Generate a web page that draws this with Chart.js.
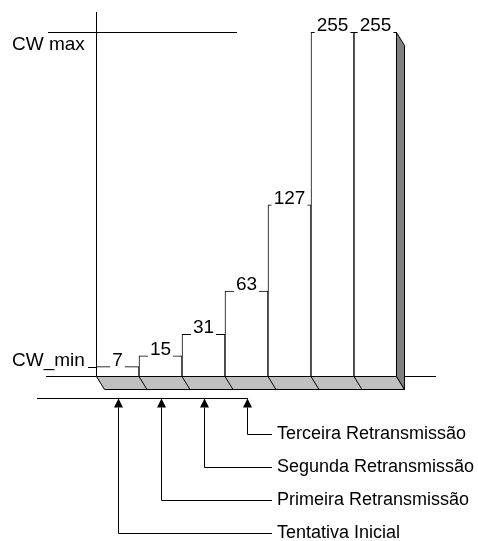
<!DOCTYPE html>
<html lang="pt">
<head>
<meta charset="UTF-8">
<title>Janela de contenção</title>
<script src="https://cdn.jsdelivr.net/npm/chart.js"></script>
<style>
  body { margin: 0; background: #fff; }
  #wrap { width: 478px; height: 541px; }
</style>
</head>
<body>
<div id="wrap"><canvas id="cwChart" width="478" height="541"></canvas></div>
<script>
// tentativas 0..6 e tamanho da janela de contenção
const attempts = ['0', '1', '2', '3', '4', '5', '6'];
const cwValues = [7, 15, 31, 63, 127, 255, 255];
const cwMin = 7;
const cwMax = 255;
const yTop = 270;
const attemptNames = ['Tentativa Inicial', 'Primeira Retransmissão', 'Segunda Retransmissão', 'Terceira Retransmissão'];

const FONT = '"Liberation Sans", Arial, sans-serif';

function line(ctx, x1, y1, x2, y2) {
    ctx.beginPath();
    ctx.moveTo(x1, y1);
    ctx.lineTo(x2, y2);
    ctx.stroke();
}

function poly(ctx, pts, fill) {
    ctx.beginPath();
    ctx.moveTo(pts[0][0], pts[0][1]);
    for (let i = 1; i < pts.length; i++) ctx.lineTo(pts[i][0], pts[i][1]);
    ctx.closePath();
    ctx.fillStyle = fill;
    ctx.fill();
    ctx.stroke();
}

const diagramPlugin = {
    id: 'diagram',
    afterDatasetsDraw(chart) {
        const ctx = chart.ctx;
        const y = chart.scales.y;
        const area = chart.chartArea;
        const bars = chart.getDatasetMeta(0).data;
        const base = Math.round(y.getPixelForValue(0)) + 0.5;
        const dx = 8, dy = 13;
        const left = Math.round(area.left) + 0.5;
        const right = Math.round(area.right) - 0.5;

        ctx.save();
        ctx.strokeStyle = '#000';
        ctx.lineWidth = 1;

        // piso 3D
        poly(ctx, [[left, base], [right, base], [right + dx, base + dy], [left + dx, base + dy]], '#c0c0c0');
        for (let i = 1; i < bars.length; i++) {
            const bx = Math.round(bars[i].x - bars[i].width / 2);
            line(ctx, bx, base, bx + dx, base + dy);
        }
        // lateral da última barra
        const lastTop = Math.round(bars[bars.length - 1].y) + 0.5;
        poly(ctx, [[right, lastTop], [right + dx, lastTop + dy], [right + dx, base + dy], [right, base]], '#808080');

        // eixos
        line(ctx, left, Math.round(area.top), left, base);
        line(ctx, 46, base, left, base);
        line(ctx, right + dx, base, 436, base);

        // CW max / CW_min
        const yMaxPx = Math.round(y.getPixelForValue(cwMax)) + 0.5;
        const yMinPx = Math.round(y.getPixelForValue(cwMin)) + 0.5;
        line(ctx, 48, yMaxPx, 237, yMaxPx);
        line(ctx, 88, yMinPx, left, yMinPx);
        ctx.fillStyle = '#000';
        ctx.font = '19px ' + FONT;
        ctx.textAlign = 'left';
        ctx.textBaseline = 'alphabetic';
        ctx.fillText('CW max', 12, yMaxPx + 17);
        ctx.fillText('CW_min', 12, yMinPx - 2);

        // rótulos das barras
        ctx.textAlign = 'center';
        bars.forEach((bar, i) => {
            const txt = String(cwValues[i]);
            const w = ctx.measureText(txt).width;
            ctx.fillStyle = '#fff';
            ctx.fillRect(bar.x - w / 2 - 2, bar.y - 16, w + 4, 18);
            ctx.fillStyle = '#000';
            ctx.fillText(txt, bar.x, bar.y - 1);
        });

        // setas das tentativas
        const yl = base + 22;
        line(ctx, 37, yl, 248, yl);
        ctx.font = '18px ' + FONT;
        ctx.textAlign = 'left';
        ctx.textBaseline = 'middle';
        attemptNames.forEach((name, i) => {
            const cx = Math.round(bars[i].x) + 0.5;
            const ly = 533.5 - i * 33;
            ctx.fillStyle = '#000';
            ctx.beginPath();
            ctx.moveTo(cx, yl);
            ctx.lineTo(cx - 4.5, yl + 9);
            ctx.lineTo(cx + 4.5, yl + 9);
            ctx.closePath();
            ctx.fill();
            line(ctx, cx, yl + 9, cx, ly);
            line(ctx, cx, ly, 272, ly);
            ctx.fillText(name, 277, ly);
        });
        ctx.restore();
    }
};

new Chart(document.getElementById('cwChart'), {
    type: 'bar',
    data: {
        labels: attempts,
        datasets: [{
            data: cwValues,
            backgroundColor: '#fff',
            borderColor: '#000',
            borderWidth: { top: 1, left: 1, right: 1, bottom: 0 },
            borderSkipped: false,
            barPercentage: 1,
            categoryPercentage: 1
        }]
    },
    options: {
        responsive: false,
        animation: false,
        devicePixelRatio: 1,
        layout: { padding: { left: 96, right: 81, top: 12, bottom: 165 } },
        plugins: { legend: { display: false }, tooltip: { enabled: false } },
        scales: {
            x: { display: false },
            y: { display: false, min: 0, max: yTop }
        }
    },
    plugins: [diagramPlugin]
});
</script>
</body>
</html>
